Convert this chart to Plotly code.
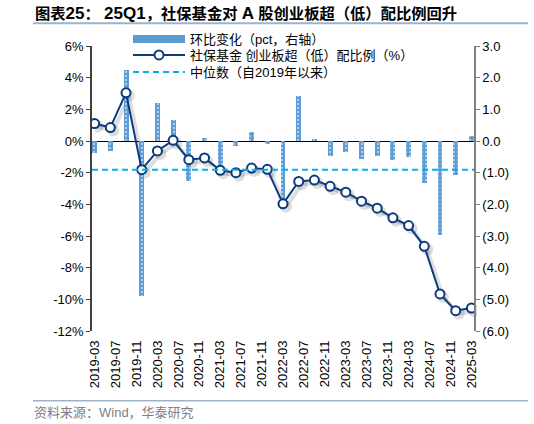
import plotly.graph_objects as go

# ---------------- data ----------------
DATES = ["2019-03", "2019-06", "2019-09", "2019-12",
         "2020-03", "2020-06", "2020-09", "2020-12",
         "2021-03", "2021-06", "2021-09", "2021-12",
         "2022-03", "2022-06", "2022-09", "2022-12",
         "2023-03", "2023-06", "2023-09", "2023-12",
         "2024-03", "2024-06", "2024-09", "2024-12",
         "2025-03"]
# 社保基金 创业板超（低）配比例（%），左轴
RATIO = [1.10, 0.85, 3.04, -1.81, -0.63, 0.04, -1.18, -1.07,
         -1.85, -2.00, -1.71, -1.79, -3.97, -2.55, -2.47, -2.86,
         -3.23, -3.80, -4.24, -4.85, -5.34, -6.65, -9.66, -10.72,
         -10.55]
# 环比变化（pct，右轴）
QOQ = [-0.38, -0.30, 2.24, -4.90, 1.21, 0.66, -1.27, 0.08,
       -0.82, -0.17, 0.28, -0.10, -2.05, 1.42, 0.07, -0.48,
       -0.35, -0.56, -0.48, -0.61, -0.50, -1.33, -2.98, -1.06,
       0.15]
MEDIAN = -1.81  # 中位数（自2019年以来）

TICK_LABELS = ["2019-03", "2019-07", "2019-11", "2020-03", "2020-07",
               "2020-11", "2021-03", "2021-07", "2021-11", "2022-03",
               "2022-07", "2022-11", "2023-03", "2023-07", "2023-11",
               "2024-03", "2024-07", "2024-11", "2025-03"]
LEFT_TICKS = [6, 4, 2, 0, -2, -4, -6, -8, -10, -12]
LEFT_TICK_TEXT = ["6%", "4%", "2%", "0%", "-2%", "-4%", "-6%", "-8%", "-10%", "-12%"]
RIGHT_TICKS = [3, 2, 1, 0, -1, -2, -3, -4, -5, -6]
RIGHT_TICK_TEXT = ["3.0", "2.0", "1.0", "0.0", "(1.0)", "(2.0)", "(3.0)",
                   "(4.0)", "(5.0)", "(6.0)"]

NAME_BAR = "环比变化（pct，右轴）"
NAME_LINE = "社保基金 创业板超（低）配比例（%）"
NAME_MED = "中位数（自2019年以来）"
SOURCE = "资料来源：Wind，华泰研究"


def latin(s):
    return '<span style="font-size:17px">' + s + '</span>'


TITLE = ("<b>图表" + latin("25") + "：\u00a0" + latin("25Q1") +
         "，社保基金对\u00a0" + latin("A") + "\u00a0股创业板超（低）配比例回升</b>")


def month_index(s):
    y, m = map(int, s.split("-"))
    return (y - 2019) * 12 + (m - 3)


x = [month_index(d) for d in DATES]
tick_x = [month_index(t) for t in TICK_LABELS]
xr = [x[0] - 0.5, x[-1] + 0.5]

# ---------------- geometry ----------------
W, H = 534, 424
L, R, T, B = 92, 57, 46, 90
aw, ah = W - L - R, H - T - B
dx, dy = 3, 3
main_x = [0, (aw - dx) / aw]
main_y = [dy / ah, 1]
sh_x = [dx / aw, 1]
sh_y = [0, (ah - dy) / ah]


def px(xp):
    return (xp - L) / aw


def py(yp):
    return (H - B - yp) / ah


FONT = "Liberation Sans, Arial, Noto Sans CJK SC, sans-serif"
BAR_C = "#5B9BD5"
LINE_C = "#0B3A7E"
MED_C = "#00B0F0"

fig = go.Figure()

# shadow of the line
fig.add_trace(go.Scatter(
    x=x, y=RATIO, xaxis="x", yaxis="y", mode="lines+markers",
    line=dict(color="rgba(0,0,0,0.13)", width=4),
    marker=dict(size=12, color="rgba(0,0,0,0.13)", line=dict(width=0)),
    showlegend=False, hoverinfo="skip"))

# bars
fig.add_trace(go.Bar(
    x=x, y=QOQ, xaxis="x2", yaxis="y2", width=0.95, name=NAME_BAR,
    marker=dict(color=BAR_C, line=dict(width=0),
                pattern=dict(shape=".", fgcolor="white", bgcolor=BAR_C,
                             size=4, solidity=0.25)),
    showlegend=False))
# legend entry for bars
fig.add_trace(go.Scatter(
    x=[None], y=[None], xaxis="x2", yaxis="y2", mode="lines", name=NAME_BAR,
    line=dict(color=BAR_C, width=8), legend="legend"))

# line
fig.add_trace(go.Scatter(
    x=x, y=RATIO, xaxis="x2", yaxis="y3", mode="lines+markers", name=NAME_LINE,
    line=dict(color=LINE_C, width=2),
    marker=dict(size=9, color="white", line=dict(color=LINE_C, width=2)),
    legend="legend2"))

# median
fig.add_trace(go.Scatter(
    x=xr, y=[MEDIAN, MEDIAN], xaxis="x2", yaxis="y3", mode="lines", name=NAME_MED,
    line=dict(color=MED_C, width=2, dash="6px,4px"), legend="legend3"))

zero_pos = main_y[0] + (main_y[1] - main_y[0]) * (0 - (-12)) / (6 - (-12))


def leg(yc):
    return dict(x=px(128), y=py(yc), xanchor="left", yanchor="middle",
                bgcolor="rgba(0,0,0,0)", font=dict(size=13, family=FONT),
                itemwidth=52, tracegroupgap=0)


fig.update_layout(
    width=W, height=H,
    margin=dict(l=L, r=R, t=T, b=B),
    paper_bgcolor="white", plot_bgcolor="rgba(0,0,0,0)",
    font=dict(family=FONT, size=13, color="black"),
    bargap=0, hovermode=False,
    title=dict(text=TITLE, x=35 / W, xref="container", xanchor="left",
               y=1 - 14 / H, yref="container", yanchor="middle",
               font=dict(size=15.3, color="black", family=FONT)),
    xaxis=dict(domain=sh_x, range=xr, visible=False, anchor="y"),
    yaxis=dict(domain=sh_y, range=[-12, 6], visible=False, anchor="x"),
    xaxis2=dict(domain=main_x, range=xr, anchor="y2", tickmode="array",
                tickvals=tick_x, ticktext=TICK_LABELS, tickangle=-90,
                showline=False, ticks="", showgrid=False, zeroline=False,
                tickfont=dict(size=13), ticklabelstandoff=6),
    xaxis3=dict(overlaying="x2", anchor="free", position=zero_pos, range=xr,
                tickmode="array", tickvals=[t - 0.5 for t in tick_x],
                ticks="outside", ticklen=4, tickcolor="black", tickwidth=1,
                showticklabels=False, showline=False, showgrid=False, zeroline=False),
    yaxis2=dict(domain=main_y, anchor="x2", side="right", range=[-6, 3],
                tickmode="array", tickvals=RIGHT_TICKS, ticktext=RIGHT_TICK_TEXT,
                showline=True, linecolor="#808080", linewidth=1.5,
                ticks="outside", ticklen=4, tickcolor="#808080",
                showgrid=False, zeroline=False, tickfont=dict(size=13)),
    yaxis3=dict(overlaying="y2", anchor="x2", side="left", range=[-12, 6],
                tickmode="array", tickvals=LEFT_TICKS, ticktext=LEFT_TICK_TEXT,
                showline=True, linecolor="#404040", linewidth=1.5,
                ticks="outside", ticklen=4, tickcolor="#404040",
                showgrid=False, zeroline=True, zerolinecolor="black",
                zerolinewidth=1, tickfont=dict(size=13)),
    legend=leg(39), legend2=leg(55), legend3=leg(72),
    shapes=[
        dict(type="line", xref="paper", yref="paper", x0=px(33), x1=px(528),
             y0=py(23.3), y1=py(23.3), line=dict(color="#9DB3CC", width=2)),
        dict(type="line", xref="paper", yref="paper", x0=px(33), x1=px(528),
             y0=py(400.7), y1=py(400.7), line=dict(color="#9DB3CC", width=1.5)),
    ],
    annotations=[
        dict(text=SOURCE, xref="paper", yref="paper", x=px(32), y=py(412),
             xanchor="left", yanchor="middle", showarrow=False,
             font=dict(size=13, color="#808080", family=FONT)),
    ],
)

fig.write_html("out.html", config={"displayModeBar": False},
               post_script="document.body.style.margin='0';")
